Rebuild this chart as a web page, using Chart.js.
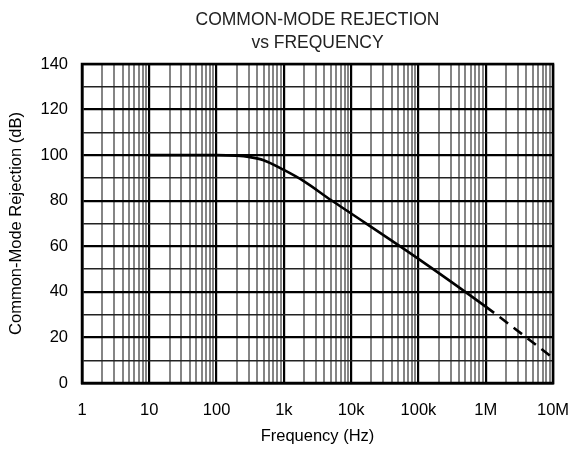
<!DOCTYPE html>
<html>
<head>
<meta charset="utf-8">
<script src="https://cdn.jsdelivr.net/npm/chart.js@4/dist/chart.umd.min.js"></script>
<style>
html, body { margin: 0; padding: 0; background: #fff; }
</style>
</head>
<body>
<canvas id="cmrChart" width="584" height="450"></canvas>
<script>
// values
var titleLines = ['COMMON-MODE REJECTION', 'vs FREQUENCY'];
var freqHz = [10, 100, 200, 300, 500, 1000, 2000, 5000, 10000, 100000, 1000000, 10000000];
var cmrDb = [100, 100, 99.7, 99.2, 97.8, 93.5, 88.5, 80.3, 74.4, 54.5, 33.5, 11];
var xTickValues = [1, 10, 100, 1000, 10000, 100000, 1000000, 10000000];
var xTickLabels = ['1', '10', '100', '1k', '10k', '100k', '1M', '10M'];
var yTicks = [0, 20, 40, 60, 80, 100, 120, 140];
var dashedFrom = 1000000; // curve is dashed past 1MHz

var fontFamily = "'Liberation Sans', Arial, sans-serif";
var ctx = document.getElementById('cmrChart').getContext('2d');

var points = freqHz.map(function (f, i) { return { x: f, y: cmrDb[i] }; });

// draws the two-line title over the plot area + the heavy frame
var framePlugin = {
    id: 'frame',
    beforeDatasetsDraw: function (chart) {
        var a = chart.chartArea, c = chart.ctx;
        c.save();
        c.strokeStyle = '#000';
        c.lineWidth = 2.5;
        c.strokeRect(a.left, a.top, a.right - a.left, a.bottom - a.top);
        c.restore();
    },
    afterDraw: function (chart) {
        var a = chart.chartArea, c = chart.ctx;
        var cx = (a.left + a.right) / 2;
        c.save();
        c.fillStyle = '#222';
        c.font = '17.5px ' + fontFamily;
        c.textAlign = 'center';
        c.textBaseline = 'middle';
        c.fillText(titleLines[0], cx, 20);
        c.fillText(titleLines[1], cx, 43);
        c.restore();
    }
};

new Chart(ctx, {
    type: 'line',
    data: {
        datasets: [{
            label: 'CMR',
            data: points,
            borderColor: '#000',
            borderWidth: 2.6,
            pointRadius: 0,
            fill: false,
            cubicInterpolationMode: 'monotone',
            segment: {
                borderDash: function (s) {
                    return s.p0.parsed.x >= dashedFrom ? [10.5, 7] : undefined;
                }
            }
        }]
    },
    options: {
        responsive: false,
        animation: false,
        layout: { padding: { top: 64, right: 31, left: 0, bottom: 0 } },
        plugins: {
            legend: { display: false },
            tooltip: { enabled: false }
        },
        scales: {
            x: {
                type: 'logarithmic',
                min: 1,
                max: 10000000,
                afterBuildTicks: function (scale) {
                    var t = [];
                    for (var k = 0; k < 7; k++) {
                        for (var m = 1; m < 10; m++) t.push({ value: m * Math.pow(10, k) });
                    }
                    t.push({ value: 10000000 });
                    scale.ticks = t;
                },
                afterFit: function (scale) {
                    scale.height = 67;
                    scale.paddingLeft = 0;
                    scale.paddingRight = 0;
                },
                ticks: {
                    autoSkip: false,
                    maxRotation: 0,
                    minRotation: 0,
                    padding: 18,
                    color: '#000',
                    font: { family: fontFamily, size: 16.5 },
                    callback: function (v) {
                        var i = xTickValues.indexOf(v);
                        return i >= 0 ? xTickLabels[i] : '';
                    }
                },
                grid: {
                    drawTicks: false,
                    color: function (c) {
                        return xTickValues.indexOf(c.tick.value) >= 0 ? '#000' : '#858585';
                    },
                    lineWidth: function (c) {
                        return xTickValues.indexOf(c.tick.value) >= 0 ? 2.2 : 2;
                    }
                },
                border: { display: true, color: '#000', width: 2.5 },
                title: {
                    display: true,
                    text: 'Frequency (Hz)',
                    color: '#000',
                    font: { family: fontFamily, size: 16.5 },
                    padding: { top: 0, bottom: 4 }
                }
            },
            y: {
                min: 0,
                max: 140,
                afterFit: function (scale) {
                    scale.width = 82;
                },
                ticks: {
                    stepSize: 10,
                    autoSkip: false,
                    padding: 14,
                    color: '#000',
                    font: { family: fontFamily, size: 16.5 },
                    callback: function (v) {
                        return yTicks.indexOf(v) >= 0 ? String(v) : '';
                    }
                },
                grid: {
                    drawTicks: false,
                    color: function (c) {
                        return yTicks.indexOf(c.tick.value) >= 0 ? '#000' : '#222';
                    },
                    lineWidth: function (c) {
                        return yTicks.indexOf(c.tick.value) >= 0 ? 2.2 : 1.4;
                    }
                },
                border: { display: true, color: '#000', width: 2.5 },
                title: {
                    display: true,
                    text: 'Common-Mode Rejection (dB)',
                    color: '#000',
                    font: { family: fontFamily, size: 16.5 },
                    padding: { top: 7, bottom: 0 }
                }
            }
        }
    },
    plugins: [framePlugin]
});
</script>
</body>
</html>
